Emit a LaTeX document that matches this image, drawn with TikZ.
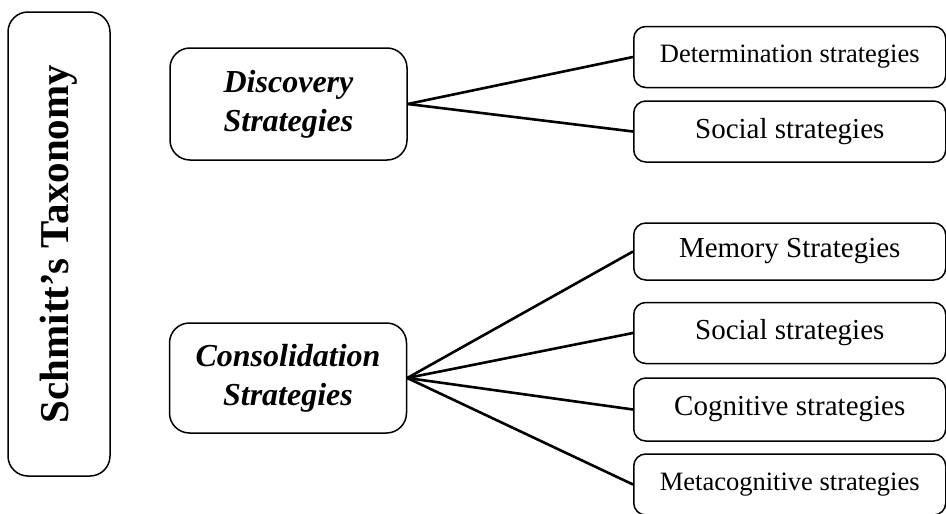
\documentclass[tikz,border=0pt]{standalone}
\usepackage{fontspec}
\setmainfont{Liberation Serif}

\begin{document}
\begin{tikzpicture}[x=1pt,y=-1pt,
  rootbox/.style={draw,line width=1.5pt,rounded corners=20pt,rotate=90,minimum width=464pt,minimum height=102pt,inner sep=0pt,font=\fontsize{41}{48}\selectfont\bfseries},
  groupbox/.style={draw,line width=1.5pt,rounded corners=20pt,minimum width=237pt,minimum height=112pt,inner sep=0pt,align=center,font=\fontsize{32}{39}\selectfont\bfseries\itshape},
  leafbox/.style={draw,line width=1.5pt,rounded corners=12pt,anchor=west,minimum width=312pt,minimum height=61pt,inner sep=0pt,font=\fontsize{29}{34}\selectfont},
  smallleaf/.style={leafbox,font=\fontsize{26.5}{31}\selectfont},
  link/.style={line width=2.6pt}]
\useasboundingbox (0,0) rectangle (946,514);
\node[rootbox] (root) at (59,244) {Schmitt’s Taxonomy};
\node[groupbox] (disc) at (288.5,104) {Discovery\\Strategies};
\node[groupbox,minimum height=110pt] (cons) at (288,378) {Consolidation\\Strategies};
\node[smallleaf] (det) at (633,57) {Determination strategies};
\node[leafbox] (soca) at (633,131.5) {Social strategies};
\node[leafbox,minimum height=57pt] (mem) at (633,251.5) {Memory Strategies};
\node[leafbox] (socb) at (633,333) {Social strategies};
\node[leafbox,minimum height=63pt] (cog) at (633,409.5) {Cognitive strategies};
\node[smallleaf] (meta) at (633,484.5) {Metacognitive strategies};
\draw[link] (disc.east) -- (det.west);
\draw[link] (disc.east) -- (soca.west);
\foreach \leaf in {mem,socb,cog,meta}
  \draw[link] (cons.east) -- (\leaf.west);
\end{tikzpicture}
\end{document}
